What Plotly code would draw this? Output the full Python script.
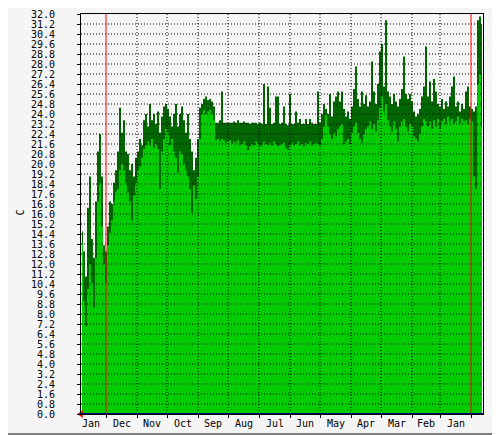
import pandas as pd
import plotly.graph_objects as go

# Temperature readings, one value per two days, listed from the left edge
# (latest, end of Jan) to the right edge (oldest, late Dec) of the graph.
avg_temp = [
    13.6, 9.0, 7.0, 10.0, 12.0, 10.5, 8.5, 12.5, 17.0, 18.5,
    15.0, 12.0, 10.5, 13.5, 14.5, 15.5, 17.0, 17.8, 18.0, 19.5,
    20.0, 19.5, 18.5, 17.7, 17.0, 15.5, 17.5, 18.5, 19.5, 19.8,
    20.5, 21.2, 21.5, 21.8, 21.5, 22.0, 21.3, 21.6, 21.2, 18.0,
    21.0, 22.0, 22.8, 22.5, 21.5, 22.0, 21.0, 20.5, 19.3, 21.0,
    20.8, 20.0, 19.5, 19.0, 18.0, 16.1, 18.3, 17.2, 19.0, 22.0,
    24.0, 24.3, 24.0, 24.2, 24.3, 24.0, 23.5, 21.9, 22.0, 21.8,
    22.0, 21.9, 21.7, 21.8, 21.9, 21.6, 21.8, 21.7, 21.9, 21.5,
    21.6, 21.8, 21.5, 21.1, 21.4, 21.6, 21.5, 21.8, 21.6, 21.4,
    21.5, 21.8, 21.6, 21.5, 21.7, 21.5, 21.8, 21.6, 21.4, 21.5,
    21.6, 21.7, 21.3, 21.1, 21.5, 21.7, 21.5, 21.6, 21.8, 21.5,
    21.6, 21.4, 21.7, 21.6, 21.8, 21.5, 21.6, 21.7, 21.6, 21.5,
    22.0, 23.0, 23.9, 23.0, 22.4, 22.0, 22.5, 22.2, 22.8, 23.0,
    23.2, 21.6, 21.8, 22.0, 21.6, 22.5, 23.0, 23.3, 22.5, 22.0,
    21.7, 22.4, 22.8, 23.0, 23.4, 22.8, 23.2, 22.6, 23.5, 24.5,
    25.4, 24.2, 24.8, 23.5, 23.0, 22.6, 23.4, 22.8, 21.8, 23.0,
    23.4, 23.6, 23.0, 22.6, 23.2, 23.0, 22.2, 22.0, 21.8, 22.4,
    23.0, 23.6, 23.4, 23.0, 23.4, 22.8, 23.5, 23.0, 23.6, 22.8,
    23.4, 23.6, 23.2, 23.8, 23.4, 23.6, 23.2, 23.4, 23.8, 23.2,
    23.6, 23.4, 23.5, 23.2, 23.6, 23.4, 19.0, 18.0, 26.4, 27.2,
    23.0,
]
max_temp = [
    14.6, 13.0, 11.0, 16.5, 19.0, 14.0, 12.5, 17.0, 21.0, 22.4,
    19.0, 13.5, 13.0, 15.0, 17.0, 16.8, 18.5, 19.5, 21.0, 24.5,
    22.5, 23.5, 21.0, 20.8, 19.5, 20.0, 19.0, 20.5, 21.0, 22.0,
    21.5, 23.5, 24.0, 23.0, 24.8, 23.5, 24.0, 23.2, 24.2, 22.5,
    23.8, 24.6, 24.8, 24.4, 23.8, 23.0, 24.0, 24.8, 23.0, 24.0,
    24.6, 23.5, 22.5, 24.0, 22.0, 21.0, 19.5, 20.5, 22.0, 24.5,
    24.8, 25.2, 25.4, 25.1, 25.2, 25.0, 24.6, 23.3, 23.3, 23.5,
    25.8, 23.3, 23.3, 23.3, 23.3, 23.3, 23.4, 23.3, 23.5, 23.3,
    23.3, 23.4, 23.3, 23.3, 23.2, 23.3, 23.3, 23.3, 23.2, 23.3,
    23.2, 26.4, 23.2, 26.2, 24.5, 23.2, 23.3, 25.4, 25.4, 23.2,
    23.3, 24.6, 23.2, 23.1, 25.6, 23.2, 23.2, 24.2, 23.3, 23.6,
    23.2, 23.2, 23.6, 23.2, 23.6, 23.3, 23.2, 23.2, 25.8, 23.3,
    24.0, 24.8, 24.4, 24.0, 25.6, 23.8, 25.0, 25.4, 25.8, 25.0,
    25.8, 24.4, 23.8, 24.2, 23.6, 24.6, 26.0, 27.8, 25.2, 24.6,
    25.8, 24.8, 25.5, 24.6, 25.0, 28.2, 25.8, 24.8, 26.4, 29.0,
    29.6, 26.2, 31.5, 25.8, 25.4, 24.8, 25.6, 25.0, 24.6, 25.2,
    26.0, 28.6, 25.6, 25.2, 25.6, 25.0, 24.2, 23.8, 24.0, 24.4,
    25.4, 26.2, 29.4, 25.4, 26.6, 25.0, 26.8, 25.8, 24.8, 24.6,
    25.2, 24.4, 25.0, 24.6, 25.4, 26.2, 27.0, 24.6, 25.0, 24.2,
    24.8, 24.4, 25.8, 26.2, 24.6, 24.4, 24.2, 24.6, 31.5, 31.8,
    31.2,
]
dates = pd.date_range("2010-12-21", "2012-01-25", freq="2D")[::-1]

y_ticks = [round(0.8 * k, 1) for k in range(41)]
y_labels = [f"{v:.1f}" for v in y_ticks]

month_lines = ["2011-02-01", "2011-03-01", "2011-04-01", "2011-05-01",
               "2011-06-01", "2011-07-01", "2011-08-01", "2011-09-01",
               "2011-10-01", "2011-11-01", "2011-12-01"]
year_lines = ["2011-01-01", "2012-01-01"]
month_label_pos = ["2012-01-16", "2011-12-16", "2011-11-16", "2011-10-16",
                   "2011-09-16", "2011-08-16", "2011-07-16", "2011-06-16",
                   "2011-05-16", "2011-04-16", "2011-03-16", "2011-02-15",
                   "2011-01-16"]
month_labels = ["Jan", "Dec", "Nov", "Oct", "Sep", "Aug", "Jul", "Jun",
                "May", "Apr", "Mar", "Feb", "Jan"]

FONT = dict(family="DejaVu Sans Mono", size=10, color="black")

# the page body has an 8px margin, so the figure is drawn 8px in and 8px down
OFF = 8
W, H = 500 - OFF, 435 - OFF
L, R, T, B = 81 - OFF, 17, 14 - OFF, 21


def fx(px):  # page pixel -> paper x
    return (px - 81) / 402


def fy(py):  # page pixel -> paper y
    return (414 - py) / 400


fig = go.Figure()

# max as dark green area, average drawn over it in light green
fig.add_trace(go.Scatter(
    x=dates, y=max_temp, mode="lines",
    line=dict(width=0, shape="hvh", color="#006600"),
    fill="tozeroy", fillcolor="#006600", hoverinfo="skip"
))
fig.add_trace(go.Scatter(
    x=dates, y=avg_temp, mode="lines",
    line=dict(width=0, shape="hvh", color="#00CC00"),
    fill="tozeroy", fillcolor="#00CC00", hoverinfo="skip"
))

# ── grid drawn on top of the data, rrdtool style ──
for v in y_ticks[1:-1]:
    fig.add_hline(y=v, line=dict(color="black", width=1, dash="1px,2px"), layer="above")
for d in month_lines:
    fig.add_vline(x=d, line=dict(color="black", width=1, dash="1px,2px"), layer="above")
for d in year_lines:
    fig.add_vline(x=d, line=dict(color="#FF0000", width=1), layer="above")
fig.add_hline(y=0, line=dict(color="#000080", width=2), layer="above")

# arrow at the end of the time axis
fig.add_trace(go.Scatter(
    x=[dates[0] + pd.Timedelta(days=1)], y=[0], mode="markers",
    marker=dict(symbol="triangle-left", size=7, color="#FF0000"),
    cliponaxis=False, hoverinfo="skip"
))

# dark bottom / right edge of the image frame
frame = [(OFF, 433, 500, 435), (498, OFF, 500, 435)]
for x0, y0, x1, y1 in frame:
    fig.add_shape(type="rect", xref="paper", yref="paper",
                  x0=fx(x0), x1=fx(x1), y0=fy(y1), y1=fy(y0),
                  fillcolor="#7F7F7F", line_width=0, layer="above")

fig.add_annotation(text="C", xref="paper", yref="paper", x=fx(12), y=fy(213),
                   textangle=-90, showarrow=False, font=FONT)

fig.update_layout(
    width=W, height=H,
    margin=dict(l=L, r=R, t=T, b=B, pad=0, autoexpand=False),
    paper_bgcolor="#F5F5F5", plot_bgcolor="#F5F5F5",
    showlegend=False,
    font=FONT,
)
fig.update_xaxes(
    type="date", range=["2012-01-26", "2010-12-20"], automargin=False,
    tickvals=month_label_pos, ticktext=month_labels, ticks="",
    tickfont=FONT, showgrid=False, zeroline=False,
    showline=True, linecolor="black", linewidth=1, mirror=True,
    layer="above traces",
    minor=dict(ticks="outside", ticklen=3, tickcolor="black",
               dtick="M1", tick0="2011-01-01", showgrid=False),
)
fig.update_yaxes(
    range=[0, 32], automargin=False, tickvals=y_ticks, ticktext=y_labels,
    ticks="outside", ticklen=3, tickcolor="black",
    tickfont=FONT, showgrid=False, zeroline=False,
    showline=True, linecolor="black", linewidth=1, mirror=True,
    layer="above traces", ticklabelstandoff=20,
)

fig.write_html("out.html")
